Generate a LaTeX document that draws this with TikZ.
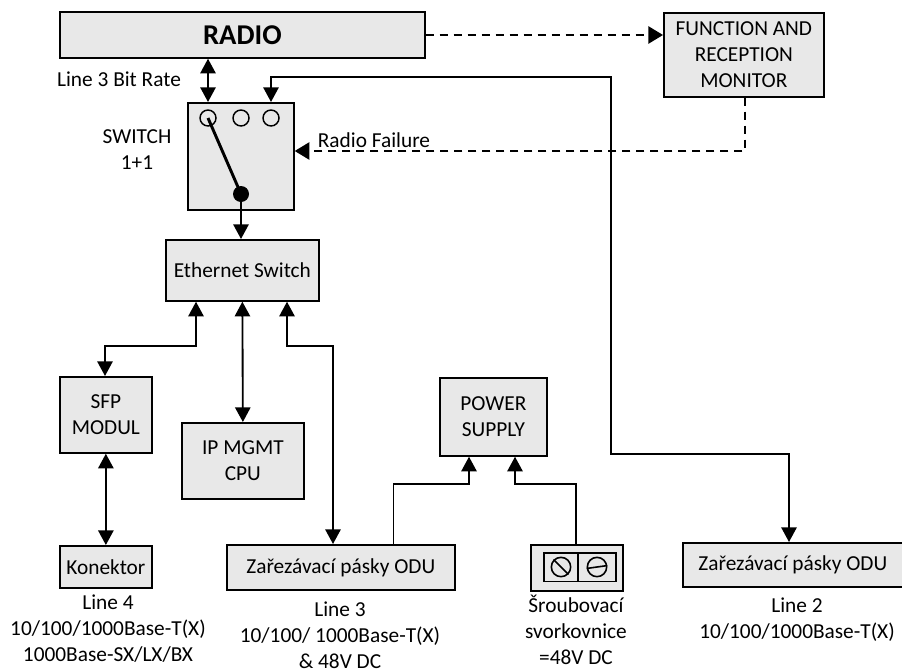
\documentclass[tikz,border=0pt]{standalone}
\usepackage{fontspec}
\setmainfont{Carlito}
\usetikzlibrary{arrows.meta}
\tikzset{
  x=0.75pt,y=-0.75pt,
  box/.style={draw=black,fill=boxgray,line width=1.3pt,inner sep=0pt,align=center,anchor=north west,font=\fontsize{16}{19.5}\selectfont},
  label/.style={inner sep=0pt,align=center,font=\fontsize{16}{19.5}\selectfont},
  conn/.style={line width=1.4pt,-{Triangle[length=11pt,width=11.5pt]}},
  biconn/.style={line width=1.4pt,{Triangle[length=11pt,width=11.5pt]}-{Triangle[length=11pt,width=11.5pt]}},
  dashconn/.style={line width=1.2pt,dash pattern=on 6pt off 4.5pt},
  contact/.style={circle,draw=black,line width=1.1pt,minimum size=12pt,inner sep=0pt},
  screw/.style={circle,draw=black,line width=1.2pt,minimum size=14.5pt,inner sep=0pt},
}
\definecolor{boxgray}{HTML}{E8E8E8}
\newcommand{\bx}[6][]{\node[box,minimum width=#4*0.75pt,minimum height=#5*0.75pt,#1] (#2) at (#3) {#6};}
\begin{document}
\begin{tikzpicture}
\useasboundingbox (0,0) rectangle (902,671);
% boxes
\bx[font=\fontsize{21.5}{24}\bfseries\selectfont]{radio}{59,11}{365}{46}{RADIO}
\bx{monitor}{663,12}{160}{84}{FUNCTION AND\\RECEPTION\\MONITOR}
\bx{switch}{187,102}{106}{107}{}
\bx{ether}{165,239}{153}{61}{Ethernet Switch}
\bx{sfp}{59,376}{92}{76}{SFP\\MODUL}
\bx{ip}{181,422}{122}{76}{IP MGMT\\CPU}
\bx{power}{439,377}{107}{78}{POWER\\SUPPLY}
\bx{kon}{59,545}{92}{42}{Konektor}
\bx{zar}{226,544}{228}{45}{Zařezávací pásky ODU}
\bx{term}{530,544}{92}{46}{}
\bx{zartwo}{682,542}{220}{44}{Zařezávací pásky ODU}
% terminal block
\node[draw=black,line width=1.3pt,minimum width=54pt,minimum height=21.5pt,inner sep=0pt,anchor=north west] (inner) at (543,552) {};
\coordinate (divt) at (578,552);
\coordinate (divb) at (578,581);
\draw[line width=1.2pt] (divt) -- (divb);
\node[screw] (s1) at (561,567) {};
\node[screw] (s2) at (597,567) {};
\draw[line width=1.2pt] (s1.135) -- (s1.-45);
\draw[line width=1.2pt] (s2.188) -- (s2.8);
% switch contacts
\node[contact] (c1) at (208,118) {};
\node[contact] (c2) at (241,118) {};
\node[contact] (c3) at (271,118) {};
\node[circle,fill=black,minimum size=12pt,inner sep=0pt] (ball) at (241,194) {};
\draw[line width=2.2pt] (c1.center) -- (ball.center);
% labels
\node[label] (l3br) at (119,79) {Line 3 Bit Rate};
\node[label] (swl) at (137,150) {SWITCH\\1+1};
\node[label] (rf) at (374,140) {Radio Failure};
\node[label] (l4) at (108,629) {Line 4\\10/100/1000Base-T(X)\\1000Base-SX/LX/BX};
\node[label] (l3) at (340,635.5) {Line 3\\10/100/ 1000Base-T(X)\\\& 48V DC};
\node[label] (l5) at (576,630) {Šroubovací\\svorkovnice\\=48V DC};
\node[label] (l2) at (797,620) {Line 2\\10/100/1000Base-T(X)};
% junctions
\coordinate (a) at (271,77);
\coordinate (b) at (611,77);
\coordinate (d) at (611,454);
\coordinate (e) at (789,454);
\coordinate (f) at (745,151);
\coordinate (g) at (196,346);
\coordinate (h) at (105,346);
\coordinate (i) at (287,346);
\coordinate (j) at (333,346);
\coordinate (k) at (393.5,484);
\coordinate (m) at (469,484);
\coordinate (n) at (515,484);
\coordinate (o) at (576,484);
\coordinate (r) at (0,35);
% connectors
\draw[biconn] (radio.south -| c1) -- (switch.north -| c1);
\draw[conn] (ball.center) -- (ether.north -| ball);
\draw[dashconn,-{Triangle[length=11pt,width=13pt]}] (radio.east |- r) -- (monitor.west |- r);
\draw[dashconn,-{Triangle[length=11pt,width=13pt]}] (monitor.south -| f) -- (f) -- (switch.east |- f);
\draw[biconn] (switch.north -| a) -- (a) -- (b) -- (d) -- (e) -- (zartwo.north -| e);
\draw[biconn] (ether.south -| g) -- (g) -- (h) -- (sfp.north -| h);
\draw[biconn] (ether.south) -- (ip.north);
\draw[biconn] (ether.south -| i) -- (i) -- (j) -- (zar.north -| j);
\draw[biconn] (sfp.south) -- (kon.north);
\draw[conn] (zar.north -| k) -- (k) -- (m) -- (power.south -| m);
\draw[conn] (term.north -| o) -- (o) -- (n) -- (power.south -| n);
\end{tikzpicture}
\end{document}
